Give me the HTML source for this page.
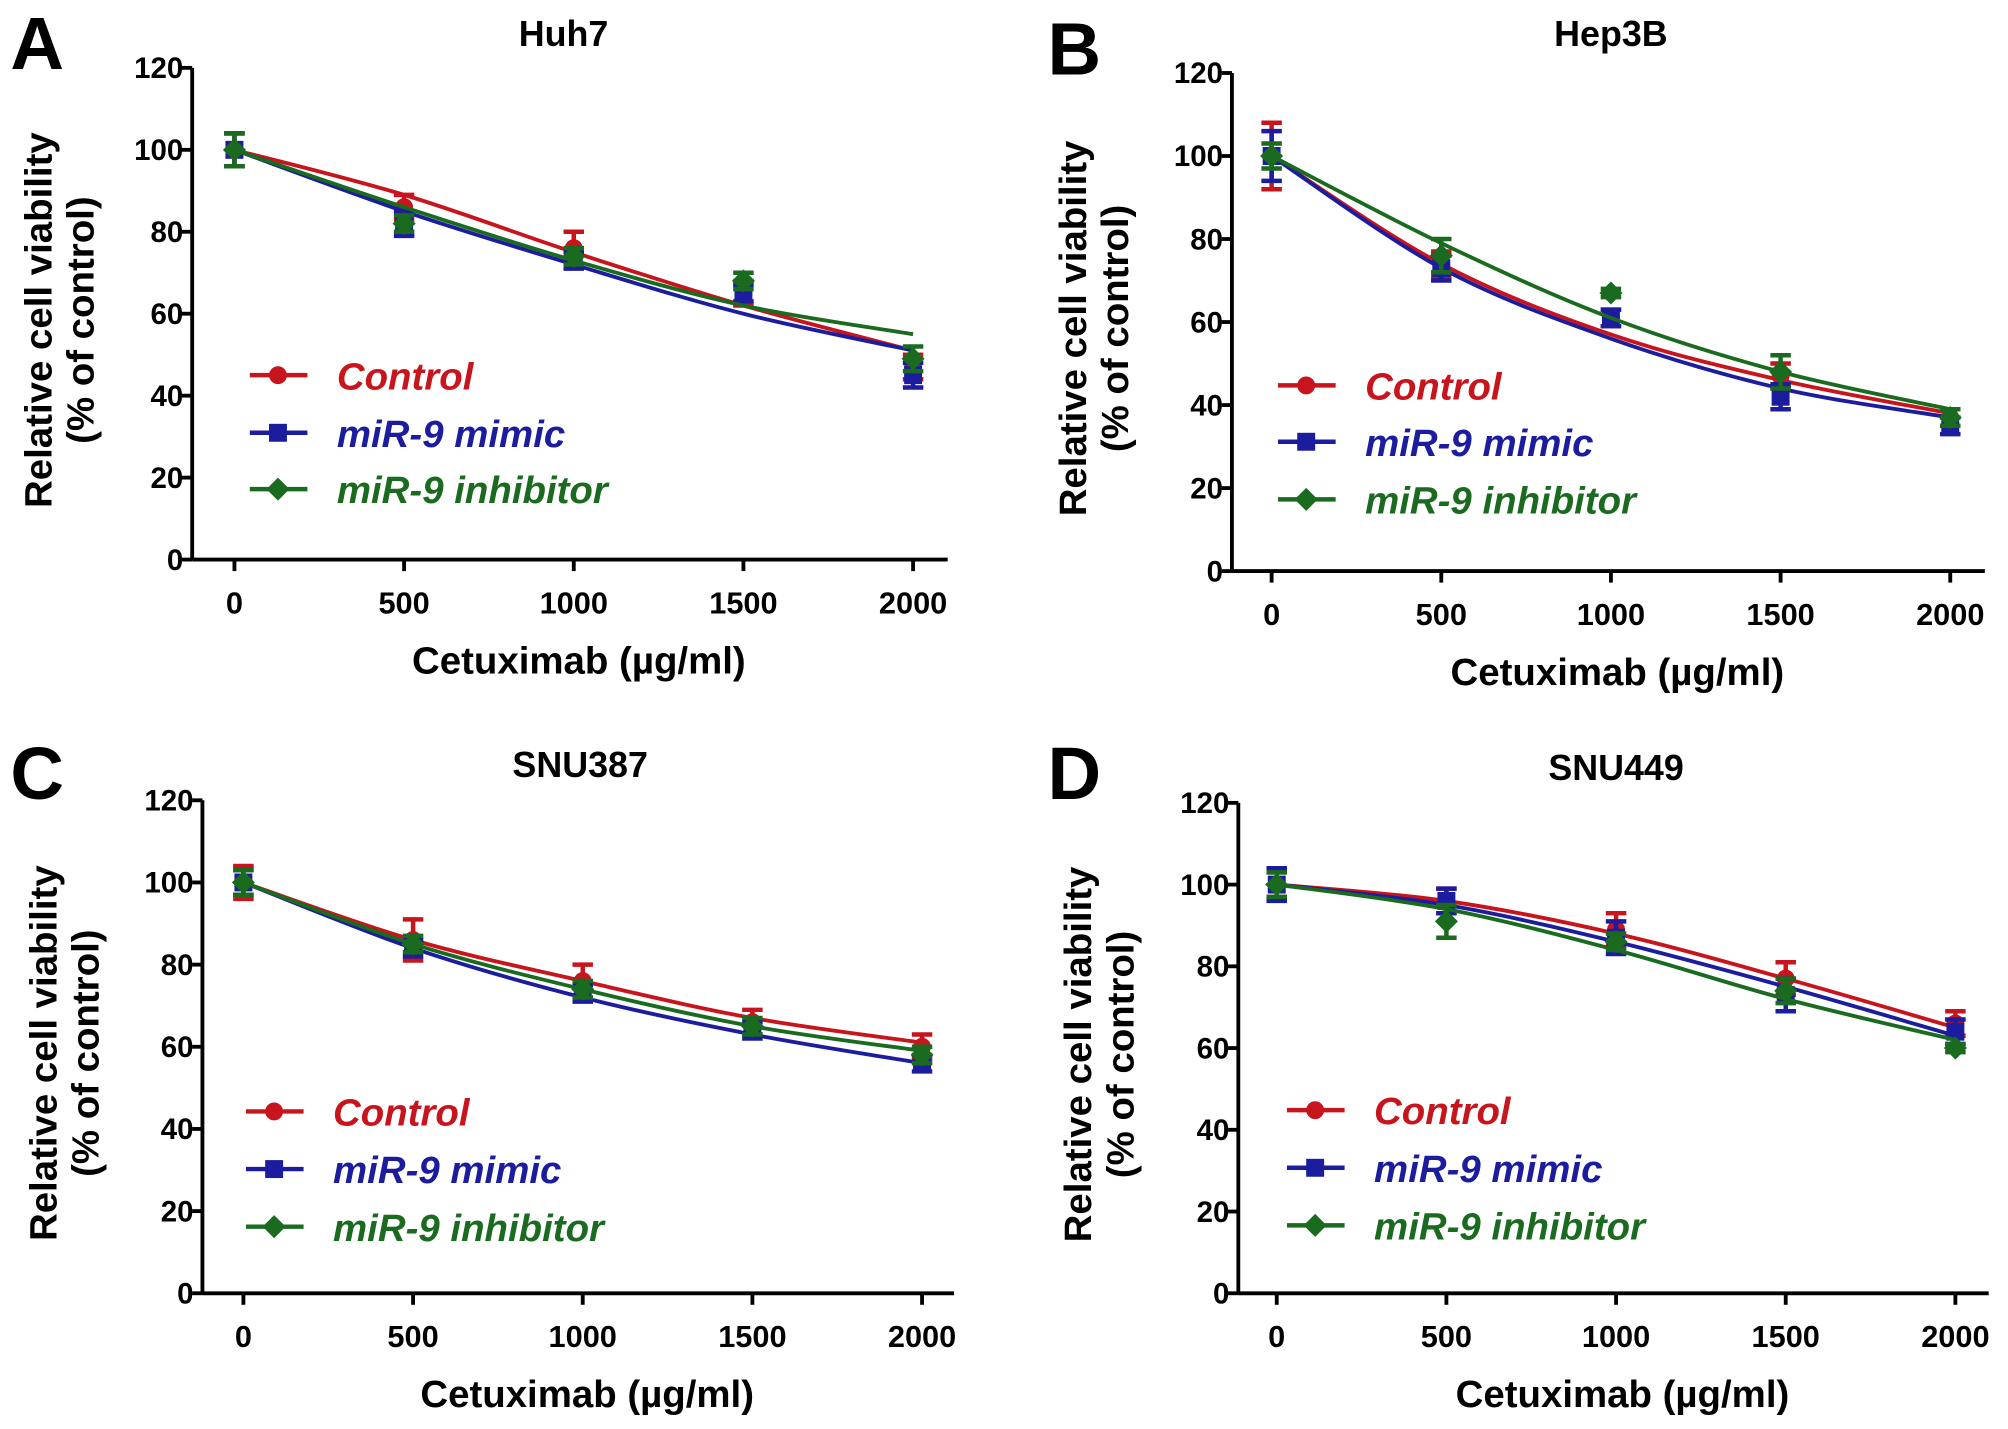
<!DOCTYPE html>
<html><head><meta charset="utf-8"><style>
html,body{margin:0;padding:0;background:#fff;}
svg{display:block;}
text{font-family:"Liberation Sans",Arial,sans-serif;font-weight:bold;}
</style></head>
<body>
<svg id="fig" width="2008" height="1429" viewBox="0 0 1568 1116" xmlns="http://www.w3.org/2000/svg"></svg>
<script>
const doses = [0, 500, 1000, 1500, 2000];
const xTicks = ["0", "500", "1000", "1500", "2000"];
const yTicks = [0, 20, 40, 60, 80, 100, 120];
const seriesNames = ["Control", "miR-9 mimic", "miR-9 inhibitor"];
const seriesKeys = ["control", "mimic", "inhibitor"];
const panelTitles = ["Huh7", "Hep3B", "SNU387", "SNU449"];
const panelLetters = ["A", "B", "C", "D"];

// measured means (points)
const huh7Control = [100, 86, 76, 65, 47];
const huh7Mimic = [100, 82, 73, 65, 45];
const huh7Inhib = [100, 82, 74, 68, 49];
const hep3bControl = [100, 74, 61, 47, 37];
const hep3bMimic = [100, 73, 61, 42, 35];
const hep3bInhib = [100, 76, 67, 48, 37];
const snu387Control = [100, 86, 76, 66, 60];
const snu387Mimic = [100, 84, 73, 64, 56];
const snu387Inhib = [100, 85, 74, 65, 58];
const snu449Control = [100, 96, 89, 77, 66];
const snu449Mimic = [100, 96, 87, 73, 64];
const snu449Inhib = [100, 91, 86, 74, 60];

// error bar half-widths
const huh7Err = [[4, 3, 4, 3, 3], [4, 3, 2, 2, 3], [4, 2, 2, 2, 3]];
const hep3bErr = [[8, 3, 2, 3, 2], [6, 3, 2, 3, 2], [3, 4, 1, 4, 2]];
const snu387Err = [[4, 5, 4, 3, 3], [3, 2, 2, 2, 2], [3, 2, 2, 2, 2]];
const snu449Err = [[3, 3, 4, 4, 3], [4, 3, 4, 4, 3], [3, 4, 2, 3, 1]];

// fitted curve values at each dose
const huh7Fit = [[100, 89, 75, 62, 51], [100, 85, 72, 60, 51], [100, 86, 73, 62, 55]];
const hep3bFit = [[100, 74, 57, 46, 38], [100, 73, 56, 44, 37], [100, 79, 61, 48, 39]];
const snu387Fit = [[100, 86, 76, 67, 61], [100, 84, 72, 63, 56], [100, 85, 74, 65, 59]];
const snu449Fit = [[100, 96, 88, 77, 65], [100, 95, 86, 75, 63], [100, 94, 84, 72, 62]];

const colors = ["#c8141c", "#1c1c9e", "#1a6b1f"];
const NS = "http://www.w3.org/2000/svg";
const svg = document.getElementById('fig');

const panels = [
 {ax:150, y120:53, y0:437, x0:183, x2000:713, xEnd:740, tx:440, ty:36, lx:8, ly:54, ytx:40, legY:[293,338,382], legX:195, means:[huh7Control,huh7Mimic,huh7Inhib], err:huh7Err, fit:huh7Fit},
 {ax:962, y120:57, y0:446, x0:993, x2000:1523, xEnd:1550, tx:1258, ty:36, lx:818, ly:58, ytx:848, legY:[301,345,390], legX:998, means:[hep3bControl,hep3bMimic,hep3bInhib], err:hep3bErr, fit:hep3bFit},
 {ax:158, y120:625, y0:1010, x0:190, x2000:720, xEnd:745, tx:453, ty:607, lx:8, ly:624, ytx:44, legY:[868,913,958], legX:192, means:[snu387Control,snu387Mimic,snu387Inhib], err:snu387Err, fit:snu387Fit},
 {ax:967, y120:627, y0:1010, x0:997, x2000:1527, xEnd:1553, tx:1262, ty:609, lx:818, ly:624, ytx:852, legY:[867,912,957], legX:1005, means:[snu449Control,snu449Mimic,snu449Inhib], err:snu449Err, fit:snu449Fit}
];

function mk(tag, attrs, parent, txt) {
  const e = document.createElementNS(NS, tag);
  for (const k in attrs) e.setAttribute(k, attrs[k]);
  if (txt !== undefined) e.textContent = txt;
  parent.appendChild(e);
  return e;
}
function marker(g, k, x, y, c) {
  let m;
  if (k === 0) m = mk('circle', {cx:x, cy:y, r:7, fill:c}, g);
  else if (k === 1) m = mk('rect', {x:x-7, y:y-7, width:14, height:14, fill:c}, g);
  else m = mk('polygon', {points:`${x},${y-9} ${x+9},${y} ${x},${y+9} ${x-9},${y}`, fill:c}, g);
  
  
  return m;
}

panels.forEach((p, pi) => {
  const g = mk('g', {}, svg);
  
  
  const X = v => p.x0 + (p.x2000 - p.x0) * v / 2000;
  const Y = v => p.y0 - (p.y0 - p.y120) * v / 120;

  const L = mk('text', {x:p.lx, y:p.ly, 'font-size':58, 'font-weight':'normal', fill:'#000'}, g, panelLetters[pi]);
  
  
  const T = mk('text', {x:p.tx, y:p.ty, 'font-size':28, 'text-anchor':'middle'}, g, panelTitles[pi]);
  
  

  const ya = mk('line', {x1:p.ax, y1:p.y120, x2:p.ax, y2:p.y0, stroke:'#000', 'stroke-width':3}, g);
  
  
  const xa = mk('line', {x1:p.ax, y1:p.y0, x2:p.xEnd, y2:p.y0, stroke:'#000', 'stroke-width':3}, g);
  
  

  yTicks.forEach(t => {
    const tk = mk('line', {x1:p.ax - 8, y1:Y(t), x2:p.ax, y2:Y(t), stroke:'#000', 'stroke-width':3}, g);
    
    
    const tl = mk('text', {x:p.ax - 7, y:Y(t) + 8, 'font-size':23, 'text-anchor':'end'}, g, String(t));
    
    
  });
  doses.forEach((d, i) => {
    const tk = mk('line', {x1:X(d), y1:p.y0, x2:X(d), y2:p.y0 + 9, stroke:'#000', 'stroke-width':3}, g);
    
    
    const tl = mk('text', {x:X(d), y:p.y0 + 42, 'font-size':24, 'text-anchor':'middle'}, g, xTicks[i]);
    
    
  });
  const xt = mk('text', {x:(p.ax + p.xEnd) / 2 + 7, y:p.y0 + 89, 'font-size':30, 'text-anchor':'middle'}, g, 'Cetuximab (\u00b5g/ml)');
  
  
  const cy = (p.y120 + p.y0) / 2 + 5;
  const yt = mk('text', {x:0, y:0, 'font-size':30, 'text-anchor':'middle', transform:`translate(${p.ytx},${cy}) rotate(-90)`}, g, 'Relative cell viability');
  
  
  const yt2 = mk('text', {x:0, y:0, 'font-size':30, 'text-anchor':'middle', transform:`translate(${p.ytx + 33},${cy}) rotate(-90)`}, g, '(% of control)');
  
  

  for (let k = 0; k < 3; k++) {
    const c = colors[k];
    const f = p.fit[k];
    const pts = doses.map((d, i) => [X(d), Y(f[i])]);
    let dstr = `M${pts[0][0]},${pts[0][1]}`;
    for (let i = 0; i < pts.length - 1; i++) {
      const p0 = pts[Math.max(0, i - 1)], p1 = pts[i], p2 = pts[i + 1], p3 = pts[Math.min(pts.length - 1, i + 2)];
      const c1 = [p1[0] + (p2[0] - p0[0]) / 6, p1[1] + (p2[1] - p0[1]) / 6];
      const c2 = [p2[0] - (p3[0] - p1[0]) / 6, p2[1] - (p3[1] - p1[1]) / 6];
      dstr += ` C${c1[0]},${c1[1]} ${c2[0]},${c2[1]} ${p2[0]},${p2[1]}`;
    }
    const cv = mk('path', {d:dstr, fill:'none', stroke:c, 'stroke-width':3}, g);
    
    
    doses.forEach((d, i) => {
      const m = p.means[k][i], e = p.err[k][i];
      const x = X(d);
      const eb = mk('path', {d:`M${x},${Y(m + e)} V${Y(m - e)} M${x - 8},${Y(m + e)} H${x + 8} M${x - 8},${Y(m - e)} H${x + 8}`, stroke:c, 'stroke-width':3.5, fill:'none'}, g);
      
      
      marker(g, k, x, Y(m), c);
    });
    const lg = mk('g', {}, g);
    
    
    const ly = p.legY[k];
    mk('line', {x1:p.legX, y1:ly, x2:p.legX + 45, y2:ly, stroke:c, 'stroke-width':3.5}, lg);
    marker(lg, k, p.legX + 22, ly, c);
    const lt = mk('text', {x:p.legX + 68, y:ly + 11, 'font-size':30, 'font-style':'italic', fill:c}, lg, seriesNames[k]);
    
    
  }
});
</script>
</body></html>
